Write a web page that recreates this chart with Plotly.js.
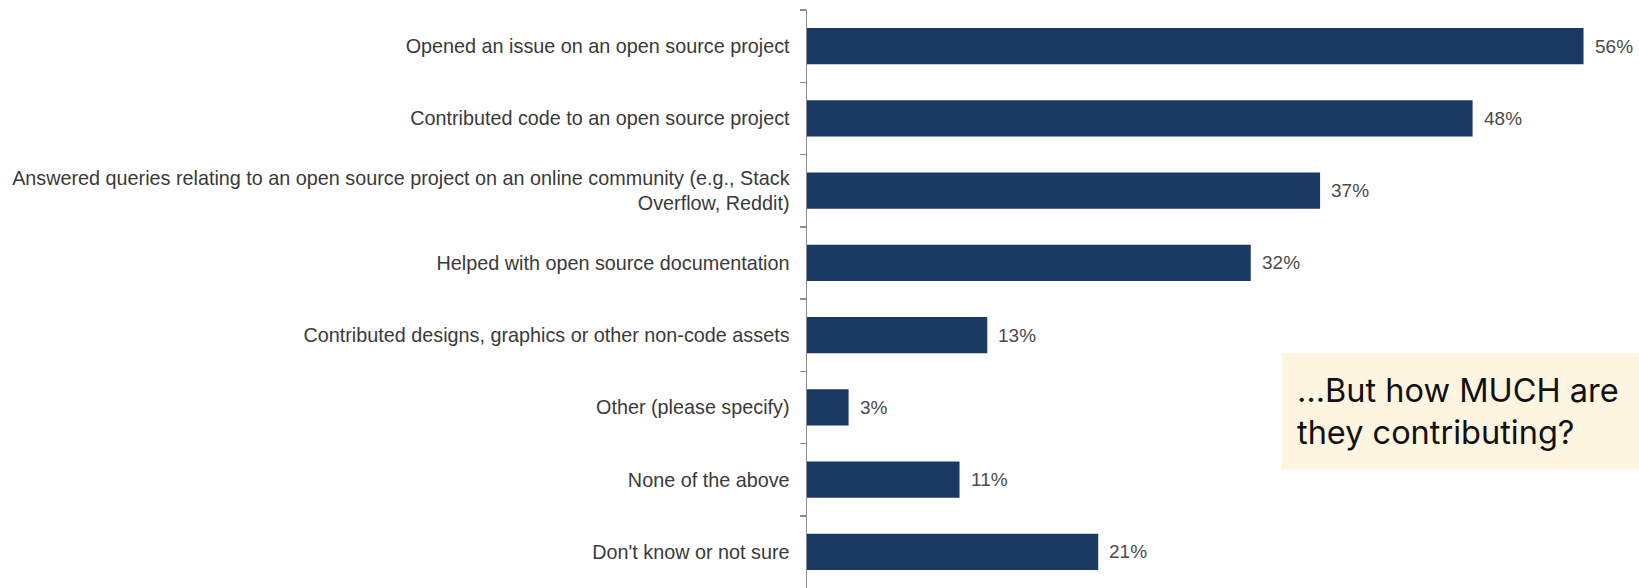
<!DOCTYPE html>
<html>
<head>
<meta charset="utf-8">
<script src="https://cdn.plot.ly/plotly-3.0.1.min.js"></script>
<style>html,body{margin:0;padding:0;background:#fff;}</style>
</head>
<body>
<div id="chart" style="width:1639px;height:588px;"></div>
<script>
const categories = [
  "Opened an issue on an open source project",
  "Contributed code to an open source project",
  "Answered queries relating to an open source project on an online community (e.g., Stack<br>Overflow, Reddit)",
  "Helped with open source documentation",
  "Contributed designs, graphics or other non-code assets",
  "Other (please specify)",
  "None of the above",
  "Don't know or not sure"
];
const values = [56, 48, 37, 32, 13, 3, 11, 21];
const valueLabels = ["56%", "48%", "37%", "32%", "13%", "3%", "11%", "21%"];
const calloutText = "…But how MUCH are<br>they contributing?";

const labelFont = {family: "Arial, 'Liberation Sans', sans-serif", size: 19.8, color: "#3a3a3a"};

const trace = {
  type: "bar",
  orientation: "h",
  x: values,
  y: categories,
  marker: {color: "#1b3a63"},
  hoverinfo: "none"
};

const valueAnnotations = values.map((v, i) => ({
  x: v, y: categories[i], xref: "x", yref: "y",
  text: valueLabels[i], showarrow: false,
  xanchor: "left", yanchor: "middle", xshift: 9,
  font: {family: "Arial, 'Liberation Sans', sans-serif", size: 19, color: "#4a4a4a"}
}));

const layout = {
  width: 1639, height: 588,
  margin: {l: 807, r: 0, t: 10, b: 0, pad: 0},
  paper_bgcolor: "#ffffff", plot_bgcolor: "#ffffff",
  bargap: 0.5,
  showlegend: false,
  xaxis: {visible: false, range: [0, 60], fixedrange: true},
  yaxis: {
    type: "category",
    autorange: "reversed",
    showline: true, linecolor: "#8c8c8c", linewidth: 1.5,
    ticks: "outside", tickson: "boundaries", ticklen: 6, tickcolor: "#8c8c8c", tickwidth: 1.5,
    ticklabelstandoff: 12,
    showgrid: false, zeroline: false,
    tickfont: labelFont
  },
  shapes: [{
    type: "rect", xref: "paper", yref: "paper",
    x0: 0.571, x1: 1.0, y0: 0.204, y1: 0.4066,
    fillcolor: "#fdf5df", line: {width: 0}, layer: "below"
  }],
  annotations: valueAnnotations.concat([{
    xref: "paper", yref: "paper", x: 0.587, y: 0.305,
    xanchor: "left", yanchor: "middle", align: "left",
    text: calloutText, showarrow: false,
    font: {family: "Inter, 'Noto Sans', sans-serif", size: 32.5, color: "#111111"}
  }])
};

Plotly.newPlot("chart", [trace], layout, {displayModeBar: false, staticPlot: true});
</script>
</body>
</html>
